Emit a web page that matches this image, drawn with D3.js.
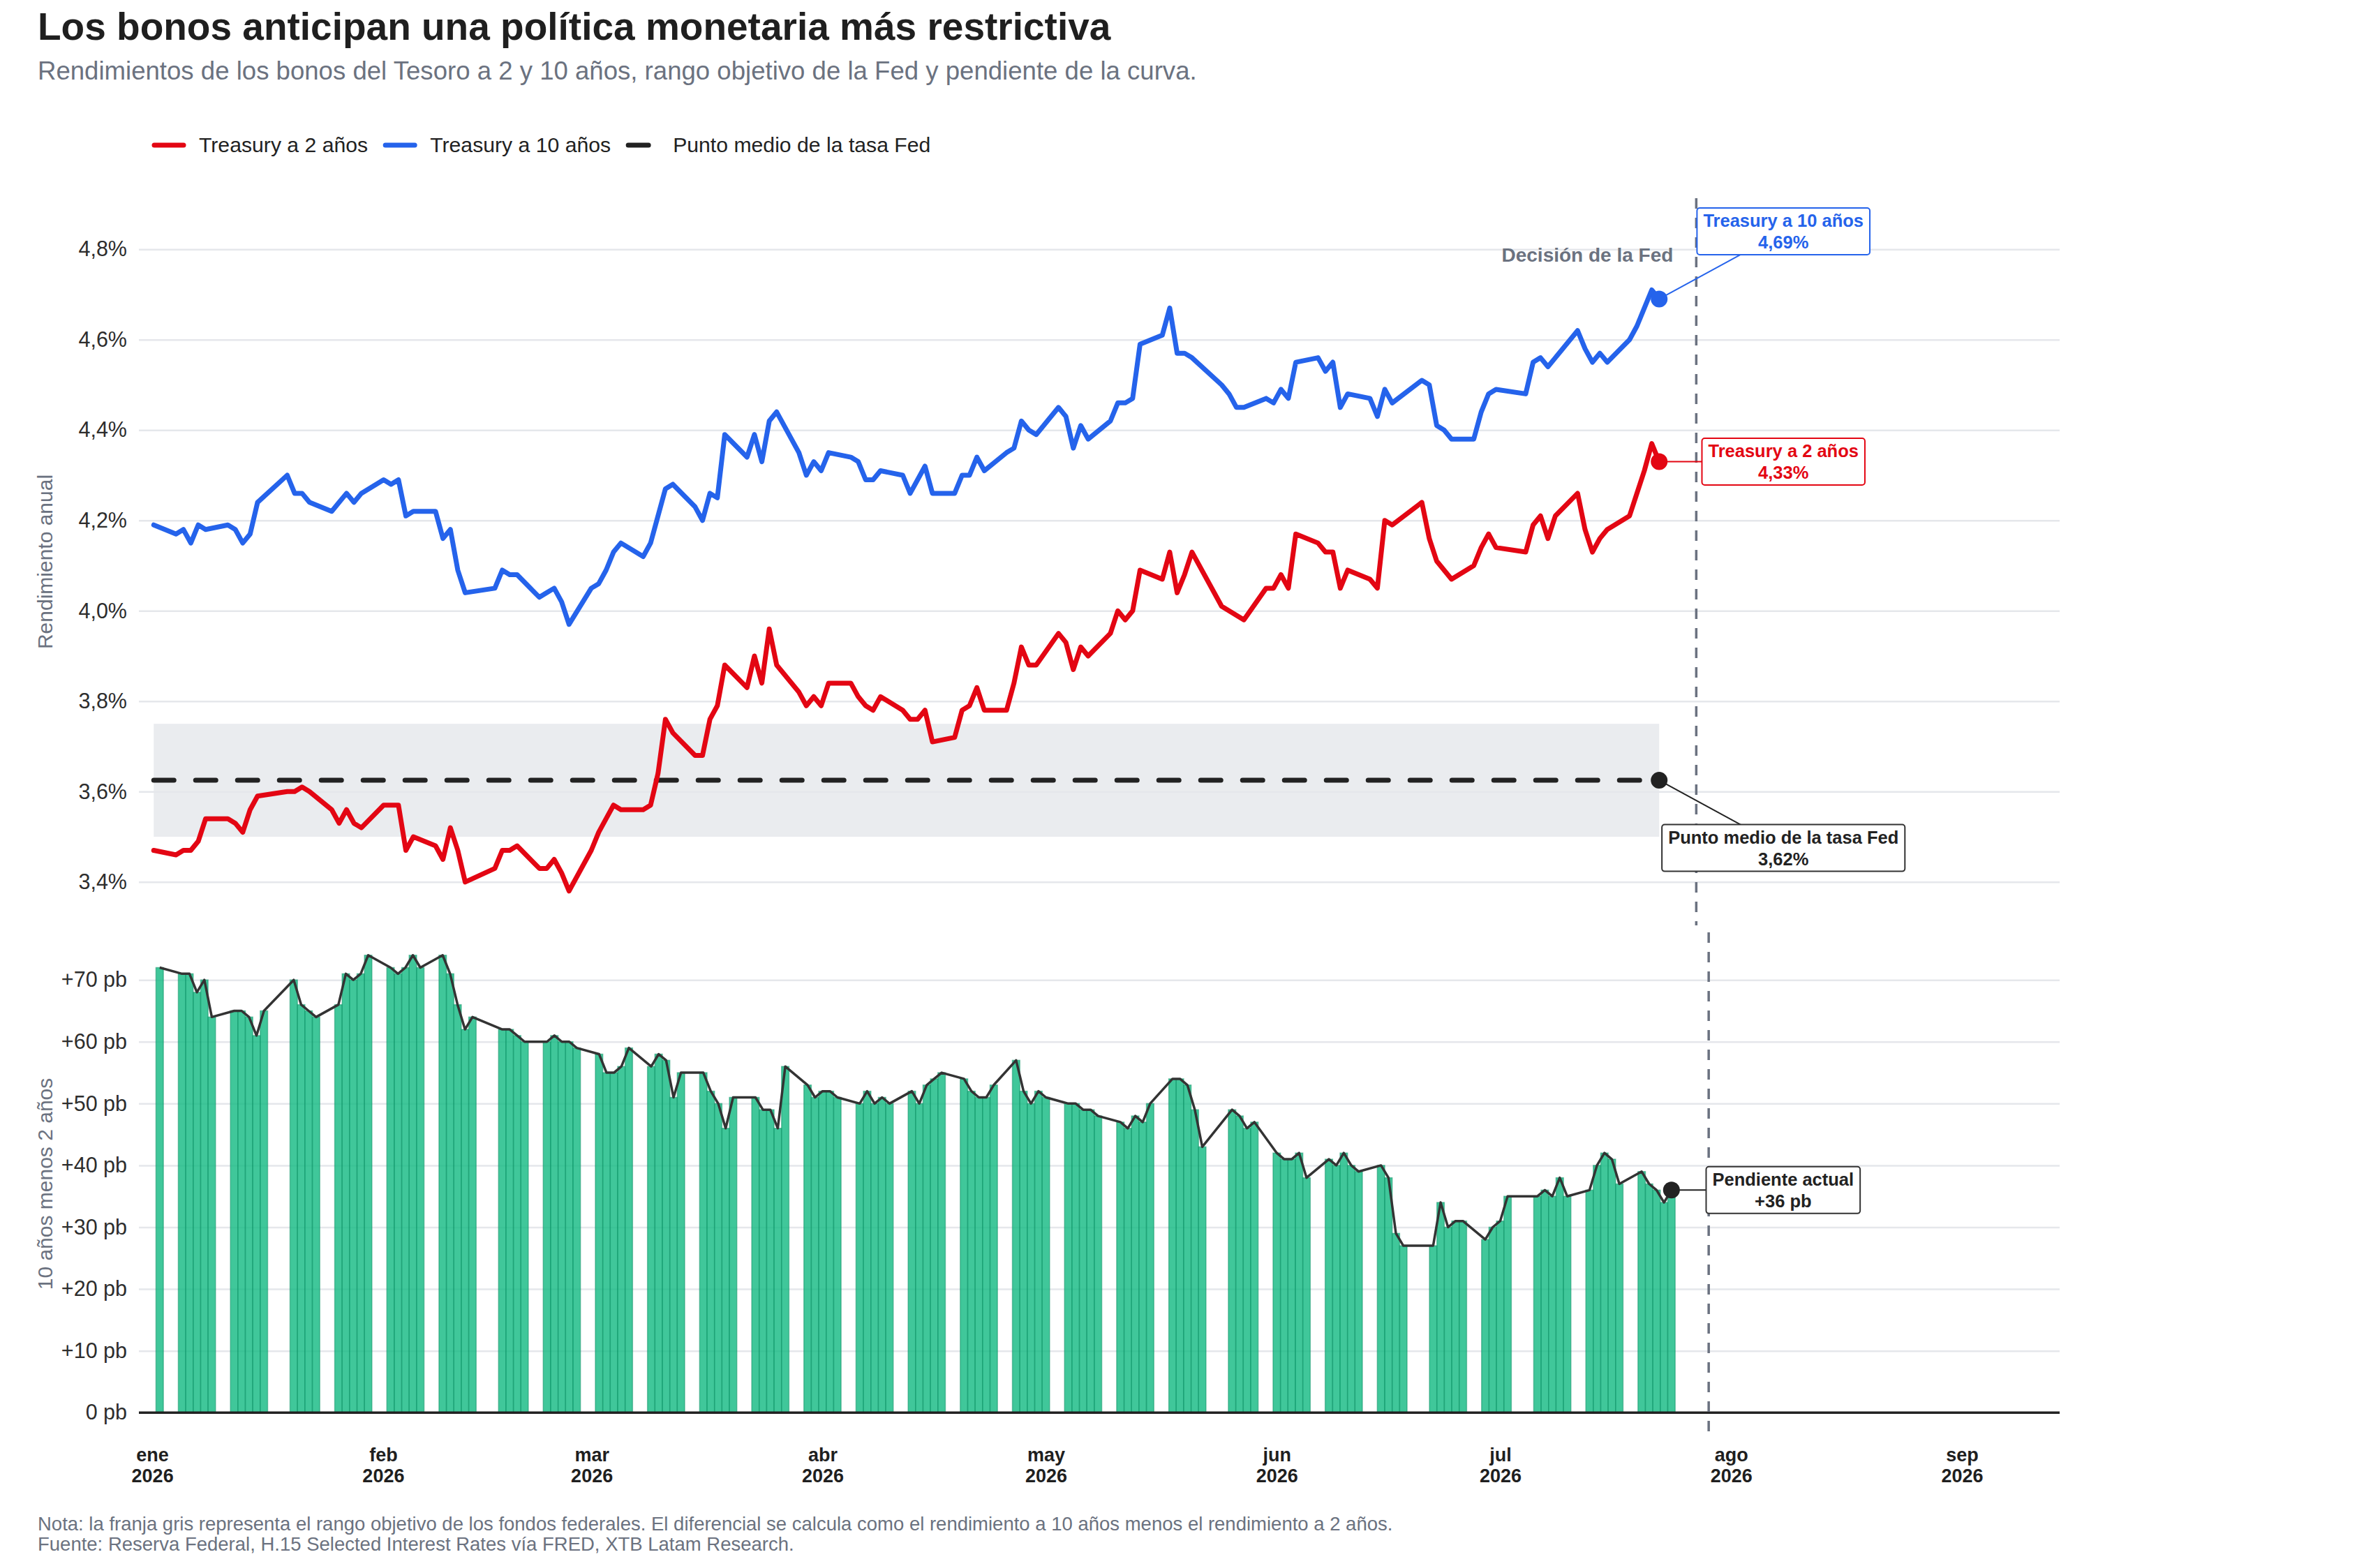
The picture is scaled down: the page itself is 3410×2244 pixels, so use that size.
<!DOCTYPE html>
<html lang="es">
<head>
<meta charset="utf-8">
<script src="https://cdn.jsdelivr.net/npm/d3@7"></script>
<style>
  body { margin: 0; background: #fff; }
  svg text { font-family: "Liberation Sans", Arial, Helvetica, sans-serif; }
</style>
</head>
<body>
<div id="chart"></div>
<script>
// ---- datos (días hábiles, ene-jul 2026) ----
var dates = [
  "2026-01-02",
  "2026-01-05","2026-01-06","2026-01-07","2026-01-08","2026-01-09",
  "2026-01-12","2026-01-13","2026-01-14","2026-01-15","2026-01-16",
  "2026-01-20","2026-01-21","2026-01-22","2026-01-23",
  "2026-01-26","2026-01-27","2026-01-28","2026-01-29","2026-01-30",
  "2026-02-02","2026-02-03","2026-02-04","2026-02-05","2026-02-06",
  "2026-02-09","2026-02-10","2026-02-11","2026-02-12","2026-02-13",
  "2026-02-17","2026-02-18","2026-02-19","2026-02-20",
  "2026-02-23","2026-02-24","2026-02-25","2026-02-26","2026-02-27",
  "2026-03-02","2026-03-03","2026-03-04","2026-03-05","2026-03-06",
  "2026-03-09","2026-03-10","2026-03-11","2026-03-12","2026-03-13",
  "2026-03-16","2026-03-17","2026-03-18","2026-03-19","2026-03-20",
  "2026-03-23","2026-03-24","2026-03-25","2026-03-26","2026-03-27",
  "2026-03-30","2026-03-31","2026-04-01","2026-04-02","2026-04-03",
  "2026-04-06","2026-04-07","2026-04-08","2026-04-09","2026-04-10",
  "2026-04-13","2026-04-14","2026-04-15","2026-04-16","2026-04-17",
  "2026-04-20","2026-04-21","2026-04-22","2026-04-23","2026-04-24",
  "2026-04-27","2026-04-28","2026-04-29","2026-04-30","2026-05-01",
  "2026-05-04","2026-05-05","2026-05-06","2026-05-07","2026-05-08",
  "2026-05-11","2026-05-12","2026-05-13","2026-05-14","2026-05-15",
  "2026-05-18","2026-05-19","2026-05-20","2026-05-21","2026-05-22",
  "2026-05-26","2026-05-27","2026-05-28","2026-05-29",
  "2026-06-01","2026-06-02","2026-06-03","2026-06-04","2026-06-05",
  "2026-06-08","2026-06-09","2026-06-10","2026-06-11","2026-06-12",
  "2026-06-15","2026-06-16","2026-06-17","2026-06-18",
  "2026-06-22","2026-06-23","2026-06-24","2026-06-25","2026-06-26",
  "2026-06-29","2026-06-30","2026-07-01","2026-07-02",
  "2026-07-06","2026-07-07","2026-07-08","2026-07-09","2026-07-10",
  "2026-07-13","2026-07-14","2026-07-15","2026-07-16","2026-07-17",
  "2026-07-20","2026-07-21","2026-07-22","2026-07-23","2026-07-24"
];

// Treasury a 2 años (%)
var y2 = [
  3.47,
  3.46,3.47,3.47,3.49,3.54, 3.54,3.53,3.51,3.56,3.59, 3.60,3.60,3.61,3.60, 3.56,3.53,3.56,3.53,3.52,
  3.57,3.57,3.57,3.47,3.50, 3.48,3.45,3.52,3.47,3.40, 3.43,3.47,3.47,3.48, 3.43,3.43,3.45,3.42,3.38,
  3.47,3.51,3.54,3.57,3.56, 3.56,3.57,3.64,3.76,3.73, 3.68,3.68,3.76,3.79,3.88, 3.83,3.90,3.84,3.96,3.88,
  3.82,3.79,3.81,3.79,3.84, 3.84,3.81,3.79,3.78,3.81, 3.78,3.76,3.76,3.78,3.71, 3.72,3.78,3.79,3.83,3.78,
  3.78,3.84,3.92,3.88,3.88, 3.95,3.93,3.87,3.92,3.90, 3.95,4.00,3.98,4.00,4.09, 4.07,4.13,4.04,4.08,4.13,
  4.01,4.00,3.99,3.98, 4.05,4.05,4.08,4.05,4.17, 4.15,4.13,4.13,4.05,4.09, 4.07,4.05,4.20,4.19,
  4.24,4.16,4.11,4.09,4.07, 4.10,4.14,4.17,4.14, 4.13,4.19,4.21,4.16,4.21, 4.26,4.18,4.13,4.16,4.18,
  4.21,4.26,4.31,4.37,4.33
];

// Treasury a 10 años (%)
var y10 = [
  4.19,
  4.17,4.18,4.15,4.19,4.18, 4.19,4.18,4.15,4.17,4.24, 4.30,4.26,4.26,4.24, 4.22,4.24,4.26,4.24,4.26,
  4.29,4.28,4.29,4.21,4.22, 4.22,4.16,4.18,4.09,4.04, 4.05,4.09,4.08,4.08, 4.03,4.04,4.05,4.02,3.97,
  4.05,4.06,4.09,4.13,4.15, 4.12,4.15,4.21,4.27,4.28, 4.23,4.20,4.26,4.25,4.39, 4.34,4.39,4.33,4.42,4.44,
  4.35,4.30,4.33,4.31,4.35, 4.34,4.33,4.29,4.29,4.31, 4.30,4.26,4.29,4.32,4.26, 4.26,4.30,4.30,4.34,4.31,
  4.35,4.36,4.42,4.40,4.39, 4.45,4.43,4.36,4.41,4.38, 4.42,4.46,4.46,4.47,4.59, 4.61,4.67,4.57,4.57,4.56,
  4.50,4.48,4.45,4.45, 4.47,4.46,4.49,4.47,4.55, 4.56,4.53,4.55,4.45,4.48, 4.47,4.43,4.49,4.46,
  4.51,4.50,4.41,4.40,4.38, 4.38,4.44,4.48,4.49, 4.48,4.55,4.56,4.54,4.56, 4.62,4.58,4.55,4.57,4.55,
  4.60,4.63,4.67,4.71,4.69
];

// pendiente 10 años menos 2 años (pb)
var spread = [
  72,
  71,71,68,70,64, 65,65,64,61,65, 70,66,65,64, 66,71,70,71,74,
  72,71,72,74,72, 74,71,66,62,64, 62,62,61,60, 60,61,60,60,59,
  58,55,55,56,59, 56,58,57,51,55, 55,52,50,46,51, 51,49,49,46,56,
  53,51,52,52,51, 50,52,50,51,50, 52,50,53,54,55, 54,52,51,51,53,
  57,52,50,52,51, 50,50,49,49,48, 47,46,48,47,50, 54,54,53,49,43,
  49,48,46,47, 42,41,41,42,38, 41,40,42,40,39, 40,38,29,27,
  27,34,30,31,31, 28,30,31,35, 35,36,35,38,35, 36,40,42,41,37,
  39,37,36,34,36
];

var fedRange = [3.50, 3.75];   // rango objetivo
var fedMid = 3.625;
var fedDecision = "2026-07-29";

var topTicks = [3.4, 3.6, 3.8, 4.0, 4.2, 4.4, 4.6, 4.8];
var bottomTicks = [0, 10, 20, 30, 40, 50, 60, 70];
var monthTicks = ["2026-01-01","2026-02-01","2026-03-01","2026-04-01","2026-05-01","2026-06-01","2026-07-01","2026-08-01","2026-09-01"];
var monthLabels = ["ene","feb","mar","abr","may","jun","jul","ago","sep"];

var RED = "#e30613", BLUE = "#2563eb", DARK = "#222222", GRAY = "#6b7280", GRID = "#e5e7eb";

// ---- lienzo y escalas ----
var width = 3410, height = 2244;
var left = 199, right = 2951;
var topPanel = {top: 284, bottom: 1326};
var botPanel = {top: 1336, bottom: 2057};

var svg = d3.select("#chart").append("svg")
    .attr("width", width)
    .attr("height", height)
    .style("background", "#fff");

var parse = d3.utcParse("%Y-%m-%d");
var dd = dates.map(parse);

var xTop = d3.scaleUtc()
    .domain([parse("2025-12-31"), parse("2026-09-16")])
    .range([left, right]);
var xBot = d3.scaleUtc()
    .domain([new Date("2025-12-30T05:00:00Z"), new Date("2026-09-14T03:00:00Z")])
    .range([left, right]);
var yTop = d3.scaleLinear().domain([3.304, 4.913]).range([topPanel.bottom, topPanel.top]);
var yBot = d3.scaleLinear().domain([-3.7, 77.7]).range([botPanel.bottom, botPanel.top]);

var comma = function(v, f) { return d3.format(f)(v).replace(".", ","); };

// ---- título ----
svg.append("text").attr("x", 54).attr("y", 57)
    .attr("font-size", 55).attr("font-weight", "bold").attr("fill", "#1f1f1f")
    .text("Los bonos anticipan una política monetaria más restrictiva");
svg.append("text").attr("x", 54).attr("y", 114)
    .attr("font-size", 36.6).attr("fill", GRAY)
    .text("Rendimientos de los bonos del Tesoro a 2 y 10 años, rango objetivo de la Fed y pendiente de la curva.");

// ---- leyenda ----
var legendItems = [
  {name: "Treasury a 2 años", color: RED, dash: null},
  {name: "Treasury a 10 años", color: BLUE, dash: null},
  {name: "Punto medio de la tasa Fed", color: DARK, dash: "29,31"}
];
var lx = 218;
legendItems.forEach(function(it) {
  svg.append("line").attr("x1", lx + 3).attr("x2", lx + 45).attr("y1", 208).attr("y2", 208)
      .attr("stroke", it.color).attr("stroke-width", 7).attr("stroke-linecap", "round")
      .attr("stroke-dasharray", it.dash);
  var t = svg.append("text").attr("x", lx + 67).attr("y", 218)
      .attr("font-size", 30.2).attr("fill", "#222").text(it.name);
  lx += 67 + t.node().getComputedTextLength() + 22;
});

// ---- panel superior ----
var gTopAxis = svg.append("g")
    .attr("transform", "translate(" + left + ",0)")
    .call(d3.axisLeft(yTop).tickValues(topTicks).tickSize(-(right - left)).tickPadding(17)
      .tickFormat(function(d) { return comma(d, ".1f") + "%"; }));
gTopAxis.select(".domain").remove();
gTopAxis.selectAll(".tick line").attr("stroke", GRID).attr("stroke-width", 2.5);
gTopAxis.selectAll(".tick text").attr("fill", "#2d2d2d")
    .attr("font-size", 30.5).attr("font-family", "Liberation Sans, Arial, sans-serif");

svg.append("text")
    .attr("transform", "translate(75," + (topPanel.top + topPanel.bottom) / 2 + ") rotate(-90)")
    .attr("text-anchor", "middle").attr("font-size", 30).attr("fill", GRAY)
    .text("Rendimiento anual");

// franja del rango de la Fed
svg.append("rect")
    .attr("x", xTop(dd[0]))
    .attr("width", xTop(dd[dd.length - 1]) - xTop(dd[0]))
    .attr("y", yTop(fedRange[1]))
    .attr("height", yTop(fedRange[0]) - yTop(fedRange[1]))
    .attr("fill", GRID).attr("opacity", 0.8);

svg.append("line")
    .attr("x1", xTop(dd[0])).attr("x2", xTop(dd[dd.length - 1]))
    .attr("y1", yTop(fedMid)).attr("y2", yTop(fedMid))
    .attr("stroke", DARK).attr("stroke-width", 7)
    .attr("stroke-dasharray", "29,31").attr("stroke-linecap", "round");

var lineTop = d3.line()
    .x(function(d, i) { return xTop(dd[i]); })
    .y(function(d) { return yTop(d); });

svg.append("path").datum(y10).attr("d", lineTop)
    .attr("fill", "none").attr("stroke", BLUE).attr("stroke-width", 7)
    .attr("stroke-linejoin", "round").attr("stroke-linecap", "round");
svg.append("path").datum(y2).attr("d", lineTop)
    .attr("fill", "none").attr("stroke", RED).attr("stroke-width", 7)
    .attr("stroke-linejoin", "round").attr("stroke-linecap", "round");

// línea de decisión de la Fed (arriba)
var fedDate = parse(fedDecision);
svg.append("line")
    .attr("x1", xTop(fedDate)).attr("x2", xTop(fedDate))
    .attr("y1", topPanel.top).attr("y2", topPanel.bottom)
    .attr("stroke", GRAY).attr("stroke-width", 3.5).attr("stroke-dasharray", "15,13");
svg.append("text")
    .attr("x", xTop(fedDate) - 33).attr("y", 375)
    .attr("text-anchor", "end").attr("font-size", 28).attr("font-weight", "bold").attr("fill", GRAY)
    .text("Decisión de la Fed");

// ---- panel inferior ----
var gBotAxis = svg.append("g")
    .attr("transform", "translate(" + left + ",0)")
    .call(d3.axisLeft(yBot).tickValues(bottomTicks).tickSize(-(right - left)).tickPadding(17)
      .tickFormat(function(d) { return (d === 0 ? "" : "+") + d + " pb"; }));
gBotAxis.select(".domain").remove();
gBotAxis.selectAll(".tick line").attr("stroke", GRID).attr("stroke-width", 2.5);
gBotAxis.selectAll(".tick text").attr("fill", "#2d2d2d")
    .attr("font-size", 30.5).attr("font-family", "Liberation Sans, Arial, sans-serif");

svg.append("text")
    .attr("transform", "translate(75," + (botPanel.top + botPanel.bottom) / 2 + ") rotate(-90)")
    .attr("text-anchor", "middle").attr("font-size", 30).attr("fill", GRAY)
    .text("10 años menos 2 años");

var halfDay = 12 * 3600 * 1000;
svg.append("g").selectAll("rect")
    .data(spread)
    .join("rect")
    .attr("x", function(d, i) { return xBot(new Date(+dd[i] - halfDay)); })
    .attr("width", function(d, i) { return xBot(new Date(+dd[i] + halfDay)) - xBot(new Date(+dd[i] - halfDay)); })
    .attr("y", function(d) { return yBot(d); })
    .attr("height", function(d) { return yBot(0) - yBot(d); })
    .attr("fill", "#10b981").attr("fill-opacity", 0.8)
    .attr("stroke", "#0b8f63").attr("stroke-opacity", 0.5).attr("stroke-width", 1.5);

svg.append("path")
    .datum(spread)
    .attr("d", d3.line().x(function(d, i) { return xBot(dd[i]); }).y(function(d) { return yBot(d); }))
    .attr("fill", "none").attr("stroke", "#333").attr("stroke-width", 3.5).attr("stroke-linejoin", "round");

// eje x y línea de cero
var xAxisG = svg.append("g")
    .attr("transform", "translate(0," + yBot(0) + ")")
    .call(d3.axisBottom(xBot).tickValues(monthTicks.map(parse)).tickSize(0).tickFormat(""));
xAxisG.select(".domain").remove();
xAxisG.selectAll(".tick text").each(function(d, i) {
  var t = d3.select(this).attr("y", 70).attr("dy", null)
      .attr("font-size", 27).attr("font-weight", "bold").attr("fill", "#1f1f1f")
      .attr("font-family", "Liberation Sans, Arial, sans-serif");
  t.append("tspan").attr("x", 0).text(monthLabels[i]);
  t.append("tspan").attr("x", 0).attr("dy", 30).text("2026");
});
svg.append("line")
    .attr("x1", left).attr("x2", right)
    .attr("y1", yBot(0)).attr("y2", yBot(0))
    .attr("stroke", DARK).attr("stroke-width", 3.5);

svg.append("line")
    .attr("x1", xBot(fedDate)).attr("x2", xBot(fedDate))
    .attr("y1", botPanel.top).attr("y2", botPanel.bottom)
    .attr("stroke", GRAY).attr("stroke-width", 3.5).attr("stroke-dasharray", "15,13");

// ---- anotaciones ----
var last = dd.length - 1;
function annotate(px, py, dx, dy, lines, color, border) {
  var cx = px + dx, cy = py + dy;
  svg.append("line").attr("x1", px).attr("y1", py).attr("x2", cx).attr("y2", cy)
      .attr("stroke", color).attr("stroke-width", 2);
  var g = svg.append("g");
  var t = g.append("text").attr("text-anchor", "middle")
      .attr("font-size", 25.5).attr("font-weight", "bold").attr("fill", color);
  lines.forEach(function(s, i) {
    t.append("tspan").attr("x", cx).attr("y", cy - 6.5 + i * 31).text(s);
  });
  var bb = t.node().getBBox();
  g.insert("rect", "text")
      .attr("x", bb.x - 9).attr("y", bb.y - 4)
      .attr("width", bb.width + 18).attr("height", bb.height + 8)
      .attr("rx", 4).attr("fill", "#fff").attr("stroke", border).attr("stroke-width", 2);
}

annotate(xTop(dd[last]), yTop(y10[last]), 178, -97,
  ["Treasury a 10 años", comma(y10[last], ".2f") + "%"], BLUE, BLUE);
annotate(xTop(dd[last]), yTop(y2[last]), 178, 0,
  ["Treasury a 2 años", comma(y2[last], ".2f") + "%"], RED, RED);
annotate(xTop(dd[last]), yTop(fedMid), 178, 97,
  ["Punto medio de la tasa Fed", "3,62%"], DARK, "#333");
annotate(xBot(dd[last]), yBot(spread[last]), 160, 0,
  ["Pendiente actual", "+" + spread[last] + " pb"], DARK, "#333");

// puntos finales
svg.append("circle").attr("cx", xTop(dd[last])).attr("cy", yTop(y10[last])).attr("r", 12).attr("fill", BLUE);
svg.append("circle").attr("cx", xTop(dd[last])).attr("cy", yTop(y2[last])).attr("r", 12).attr("fill", RED);
svg.append("circle").attr("cx", xTop(dd[last])).attr("cy", yTop(fedMid)).attr("r", 12).attr("fill", DARK);
svg.append("circle").attr("cx", xBot(dd[last])).attr("cy", yBot(spread[last])).attr("r", 12).attr("fill", DARK);

// ---- notas ----
svg.append("text").attr("x", 54).attr("y", 2193).attr("font-size", 27.5).attr("fill", GRAY)
    .text("Nota: la franja gris representa el rango objetivo de los fondos federales. El diferencial se calcula como el rendimiento a 10 años menos el rendimiento a 2 años.");
svg.append("text").attr("x", 54).attr("y", 2222).attr("font-size", 27.5).attr("fill", GRAY)
    .text("Fuente: Reserva Federal, H.15 Selected Interest Rates vía FRED, XTB Latam Research.");
</script>
</body>
</html>
